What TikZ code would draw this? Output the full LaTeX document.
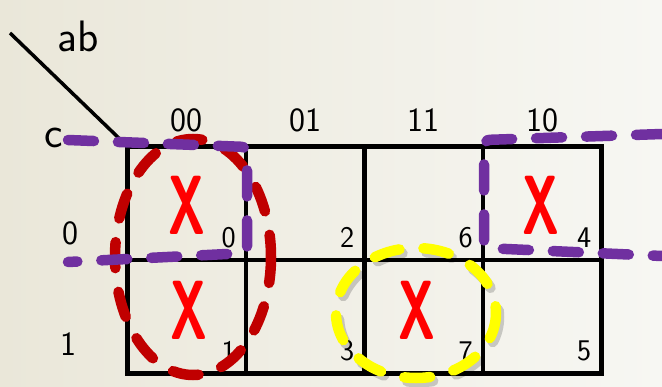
\documentclass[tikz,border=0pt]{standalone}
\usetikzlibrary{positioning}
\definecolor{kpurple}{RGB}{112,48,160}
\definecolor{kred}{RGB}{192,0,0}
\definecolor{kyellow}{RGB}{255,255,0}
\definecolor{bgleft}{RGB}{234,231,217}
\definecolor{bgright}{RGB}{247,247,243}

\begin{document}
\begin{tikzpicture}[
  x=1pt, y=-1pt,
  cell/.style={draw, line width=4.5pt, minimum width=118.5pt, minimum height=113.5pt, inner sep=0pt},
  idx/.style={inner sep=0pt, font=\sffamily\fontsize{30}{30}\selectfont},
  lbl/.style={inner sep=0pt, font=\sffamily\fontsize{34}{34}\selectfont},
  var/.style={inner sep=0pt, font=\sffamily\fontsize{44}{44}\selectfont},
  xmark/.style={inner sep=0pt, text=red, font=\sffamily\bfseries\fontsize{84}{84}\selectfont},
  group/.style={line width=10.5pt, line cap=round, dash pattern=on 26pt off 24pt}
]
  % background
  \shade[left color=bgleft, right color=bgright] (0,0) rectangle (662,386);
  \useasboundingbox (0,0) rectangle (662,386);

  % cells of the map
  \foreach \n/\i/\j in {0/0/0,2/1/0,6/2/0,4/3/0,1/0/1,3/1/1,7/2/1,5/3/1}{
    \node[cell] (m\n) at ({186.5+118.5*\i},{203+113.5*\j}) {};
    \node[idx, above left=14pt and 12pt of m\n.south east] (i\n) {\n};
  }

  % column and row labels
  \node[lbl, above=12pt of m0.north] (ab00) {00};
  \node[lbl, above=12pt of m2.north] (ab01) {01};
  \node[lbl, above=12pt of m6.north] (ab11) {11};
  \node[lbl, above=12pt of m4.north] (ab10) {10};
  \node[lbl] (c0) at (70,233) {0};
  \node[lbl] (c1) at (68,344) {1};

  % corner
  \coordinate (diagtop) at (10,33);
  \draw[line width=3.5pt] (diagtop) -- (m0.north west);
  \node[var] (ab) at (78,36) {ab};
  \node[var] (c) at (54,138) {c};

  % don't care marks
  \foreach \n/\dx/\dy in {0/0/2,1/2/-6,7/-7/-6,4/-1/2}{
    \node[xmark] (x\n) at ([shift={(\dx,\dy)}]m\n.center) {\scalebox{0.6}[1]{X}};
  }

  % groups
  \draw[group, kred] (193,257) ellipse [x radius=78, y radius=118];
  \draw[group, black, opacity=0.18] (419,317) ellipse [x radius=80, y radius=65];
  \draw[group, kyellow] (416,313) ellipse [x radius=80, y radius=65];
  \draw[group, kpurple, rounded corners=6pt] (68,140) -- (247,147) -- (247,253) -- (68,262);
  \draw[group, kpurple, rounded corners=6pt] (662,134) -- (484,140) -- (484,248) -- (662,256);
\end{tikzpicture}
\end{document}
